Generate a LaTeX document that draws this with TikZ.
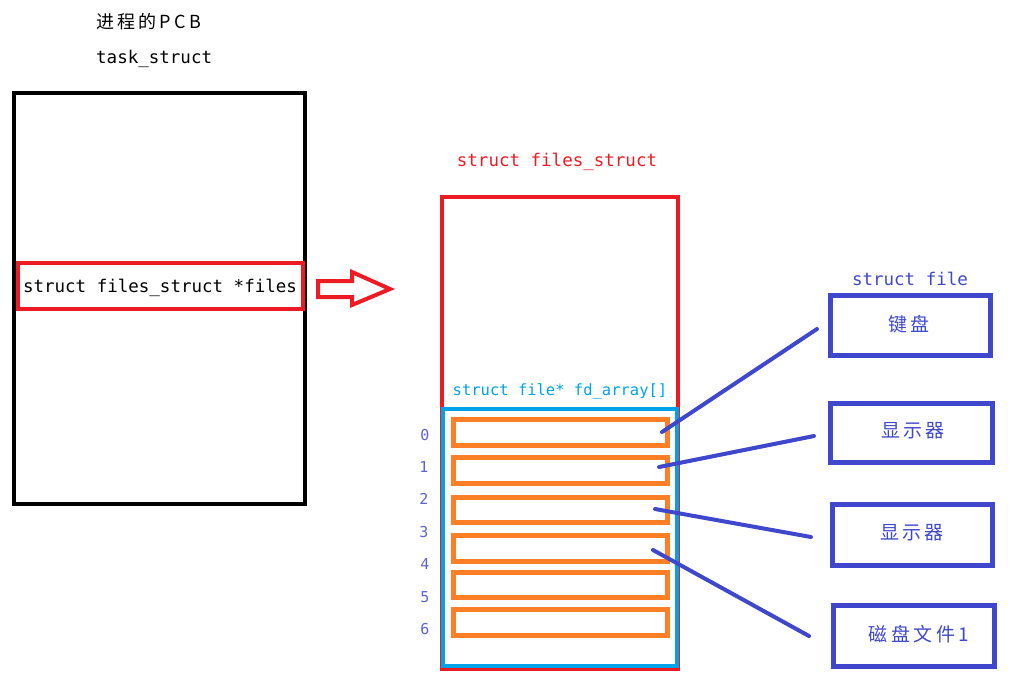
\documentclass[tikz,border=0pt]{standalone}
\usepackage{fontspec}
\newfontfamily\mono{DejaVu Sans Mono}
\newfontfamily\cjk[LetterSpace=18]{Noto Sans CJK SC}
\definecolor{pred}{HTML}{ED1C24}
\definecolor{porange}{HTML}{FF7F27}
\definecolor{pcyan}{HTML}{00A2E8}
\definecolor{pblue}{HTML}{3F48CC}
\tikzset{
  lbl/.style={inner sep=0pt, font=\mono\fontsize{17.5}{20}\selectfont},
  slot/.style={draw=porange, line width=5pt},
  fbox/.style={draw=pblue, line width=5pt},
  idx/.style={inner sep=0pt, text=pblue!85, font=\mono\fontsize{15}{17}\selectfont},
  cn/.style={inner sep=0pt, text=pblue, font=\cjk\fontsize{19}{22}\selectfont},
  link/.style={draw=pblue, line width=4pt, line cap=round},
}
\begin{document}
\begin{tikzpicture}[x=1pt,y=-1pt]
\useasboundingbox (0,0) rectangle (1012,689);
% PCB
\node[inner sep=0pt, anchor=west, font=\cjk\fontsize{18}{22}\selectfont] (title) at (96,22) {进程的PCB};
\node[lbl, anchor=west] (task) at (96,59) {task\_struct};
\draw[line width=4pt] (14,93) rectangle (305,504);
\node[draw=pred, line width=4pt, minimum width=285pt, minimum height=46pt, inner sep=0pt] (files) at (160,286) {};
\node[lbl] (fileslbl) at (160,288) {struct files\_struct *files};
% red outline arrow
\draw[pred, line width=4pt, line join=miter] (318,281) -- (352,281) -- (352,272) -- (390,289) -- (352,305) -- (352,297) -- (318,297) -- cycle;
% files_struct
\node[lbl, text=pred] (fslbl) at (557,162) {struct files\_struct};
\draw[pred, line width=4pt] (442,197) rectangle (678,669);
\node[inner sep=0pt, text=pcyan, font=\mono\fontsize{15.5}{18}\selectfont] (fdlbl) at (560,391) {struct file* fd\_array[]};
\draw[pcyan, line width=4pt] (443,409) rectangle (677,666);
% slots
\draw[slot] (453,419) rectangle (667,445);
\draw[slot] (453,457) rectangle (667,483);
\draw[slot] (453,497) rectangle (667,522);
\draw[slot] (453,535) rectangle (667,561);
\draw[slot] (453,572) rectangle (667,597);
\draw[slot] (453,609) rectangle (667,635);
% indices
\node[idx] (i0) at (425,435) {0};
\node[idx] (i1) at (424,467) {1};
\node[idx] (i2) at (424,499) {2};
\node[idx] (i3) at (424,532) {3};
\node[idx] (i4) at (425,564) {4};
\node[idx] (i5) at (425,597) {5};
\node[idx] (i6) at (425,629) {6};
% struct file boxes
\node[lbl, text=pblue] (sflbl) at (910,279) {struct file};
\node[fbox, minimum width=160pt, minimum height=60pt, inner sep=0pt] (f0) at (910,325) {};
\node[cn] (t0) at ([xshift=-1pt,yshift=1pt]f0.center) {键盘};
\node[fbox, minimum width=162pt, minimum height=59pt, inner sep=0pt] (f1) at (911,433) {};
\node[cn] (t1) at ([xshift=2pt,yshift=2pt]f1.center) {显示器};
\node[fbox, minimum width=160pt, minimum height=61pt, inner sep=0pt] (f2) at (912,535) {};
\node[cn] (t2) at ([yshift=2pt]f2.center) {显示器};
\node[fbox, minimum width=161pt, minimum height=61pt, inner sep=0pt] (f3) at (914,636) {};
\node[cn] (t3) at ([xshift=5pt,yshift=2pt]f3.center) {磁盘文件1};
% links
\coordinate (a0) at (662,432); \coordinate (b0) at (817,329);
\coordinate (a1) at (659,467); \coordinate (b1) at (814,436);
\coordinate (a2) at (655,509); \coordinate (b2) at (811,537);
\coordinate (a3) at (653,550); \coordinate (b3) at (809,636);
\draw[link] (a0) -- (b0);
\draw[link] (a1) -- (b1);
\draw[link] (a2) -- (b2);
\draw[link] (a3) -- (b3);
\end{tikzpicture}
\end{document}
